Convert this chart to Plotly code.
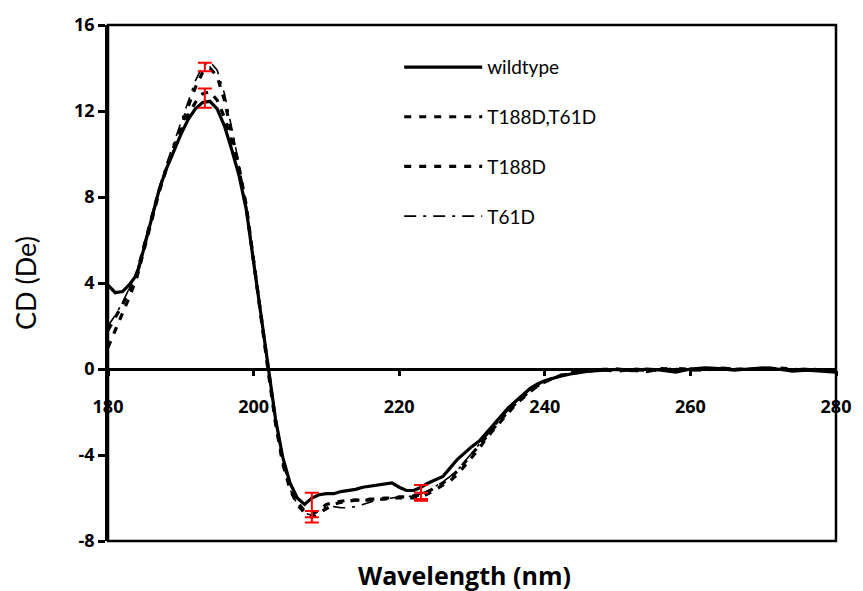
import plotly.graph_objects as go

# wavelength grid (nm)
wl = list(range(180, 241)) + list(range(242, 281, 2))

x_ticks = [180, 200, 220, 240, 260, 280]
x_ticktext = ["180", "200", "220", "240", "260", "280"]
y_ticks = [-8, -4, 0, 4, 8, 12, 16]
y_ticktext = ["-8", "-4", "0", "4", "8", "12", "16"]

wildtype = [3.9, 3.55, 3.6, 3.95, 4.4, 5.7, 7.0, 8.3, 9.3, 10.1,
            10.9, 11.6, 12.1, 12.4, 12.45, 12.1, 11.3, 10.2, 9.0, 7.4,
            5.0, 2.5, 0.0, -2.3, -4.1, -5.3, -6.0, -6.3, -6.0, -5.85,
            -5.8, -5.8, -5.7, -5.65, -5.6, -5.5, -5.45, -5.4, -5.35, -5.3,
            -5.5, -5.65, -5.65, -5.5, -5.3, -5.15, -5.0, -4.6, -4.2, -3.9,
            -3.6, -3.35, -2.95, -2.55, -2.15, -1.8, -1.5, -1.2, -0.9, -0.7,
            -0.55,
            -0.35, -0.2, -0.1, -0.05, -0.02, -0.08, 0.0, -0.05, -0.15, 0.0,
            0.05, 0.02, -0.05, 0.0, 0.05, 0.0, -0.1, -0.05, -0.1, -0.15]

t188d_t61d = [1.0, 1.8, 2.6, 3.4, 4.3, 5.6, 6.9, 8.2, 9.3, 10.3,
              11.3, 12.2, 13.1, 13.8, 14.0, 13.6, 12.5, 11.0, 9.4, 7.6,
              5.0, 2.4, -0.1, -2.5, -4.4, -5.6, -6.3, -6.7, -6.9, -6.7,
              -6.5, -6.3, -6.2, -6.15, -6.1, -6.1, -6.1, -6.05, -6.05, -6.0,
              -6.0, -6.0, -6.0, -5.95, -5.8, -5.6, -5.4, -5.2, -4.9, -4.5,
              -4.1, -3.7, -3.2, -2.8, -2.4, -2.0, -1.65, -1.35, -1.05, -0.8,
              -0.6,
              -0.32, -0.15, -0.1, -0.02, 0.0, -0.05, -0.12, 0.02, 0.0, -0.05,
              0.0, 0.05, 0.0, -0.02, 0.02, 0.05, 0.0, -0.08, -0.02, -0.05]

t188d = [1.8, 2.4, 3.0, 3.7, 4.5, 5.8, 7.1, 8.3, 9.3, 10.2,
         11.0, 11.8, 12.4, 12.8, 12.9, 12.5, 11.7, 10.6, 9.2, 7.5,
         5.0, 2.5, 0.0, -2.4, -4.3, -5.5, -6.2, -6.6, -6.75, -6.55,
         -6.3, -6.2, -6.15, -6.1, -6.1, -6.1, -6.05, -6.05, -6.0, -6.0,
         -5.95, -5.95, -5.9, -5.85, -5.7, -5.5, -5.3, -5.05, -4.75, -4.35,
         -3.95, -3.55, -3.1, -2.7, -2.3, -1.95, -1.6, -1.3, -1.0, -0.78,
         -0.58,
         -0.3, -0.18, -0.08, -0.04, -0.1, 0.0, -0.03, -0.08, 0.03, 0.0,
         -0.06, 0.04, 0.0, -0.03, 0.04, 0.02, -0.05, 0.0, -0.04, -0.08]

t61d = [2.0, 2.5, 3.1, 3.8, 4.6, 5.9, 7.2, 8.4, 9.5, 10.5,
        11.5, 12.5, 13.4, 14.1, 14.3, 13.9, 12.8, 11.2, 9.5, 7.6,
        5.1, 2.5, 0.0, -2.4, -4.3, -5.6, -6.3, -6.7, -6.8, -6.6,
        -6.4, -6.4, -6.45, -6.45, -6.4, -6.3, -6.2, -6.1, -6.05, -6.0,
        -5.95, -5.95, -5.9, -5.8, -5.65, -5.45, -5.25, -5.0, -4.7, -4.3,
        -3.9, -3.5, -3.05, -2.65, -2.25, -1.9, -1.55, -1.25, -0.95, -0.75,
        -0.55,
        -0.3, -0.16, -0.06, -0.08, 0.0, -0.04, -0.1, 0.0, -0.02, 0.03,
        -0.04, 0.0, -0.06, 0.02, 0.0, -0.02, -0.06, 0.02, -0.03, -0.1]

# error bars (red)
err_x = [193.3, 208.0, 223.0]
err_a_y = [12.6, -6.45, -5.76]
err_a_e = [0.45, 0.69, 0.37]
err_b_y = [14.05, -6.75, -5.9]
err_b_e = [0.2, 0.15, 0.15]

series = [
    ("wildtype", wildtype, dict(color="black", width=3.2, dash="solid")),
    ("T188D,T61D", t188d_t61d, dict(color="black", width=3.2, dash="7px,8px")),
    ("T188D", t188d, dict(color="black", width=3.2, dash="7px,8px")),
    ("T61D", t61d, dict(color="black", width=1.6, dash="12px,7px,3px,7px")),
]

fig = go.Figure()
for i, (name, vals, ln) in enumerate(series):
    fig.add_trace(go.Scatter(x=wl, y=vals, mode="lines", name=name, line=ln,
                             legendgroup=f"g{i}"))

for ys, es in [(err_a_y, err_a_e), (err_b_y, err_b_e)]:
    fig.add_trace(go.Scatter(x=err_x, y=ys, mode="markers", showlegend=False,
                             marker=dict(size=1, color="rgba(0,0,0,0)"),
                             error_y=dict(type="data", array=es, visible=True,
                                          color="#FF0000", thickness=2, width=7)))

tickfont = dict(family="Open Sans, Lato, sans-serif", size=18, color="black", weight="bold")

fig.update_layout(
    width=863, height=591,
    margin=dict(l=108, r=23, t=20, b=50),
    paper_bgcolor="white", plot_bgcolor="white",
    showlegend=True,
    legend=dict(x=0.40, y=0.955, xanchor="left", yanchor="top",
                bgcolor="rgba(0,0,0,0)", tracegroupgap=22, itemwidth=78,
                font=dict(family="Lato, Open Sans, sans-serif", size=19, color="black")),
    xaxis=dict(range=[180, 280], tickvals=x_ticks, ticktext=x_ticktext,
               anchor="free", position=1/3, showline=True, linecolor="black",
               linewidth=2.5, ticks="outside", ticklen=5, tickwidth=2.5,
               tickcolor="black", showgrid=False, zeroline=False,
               ticklabelstandoff=16, tickfont=tickfont),
    yaxis=dict(range=[-8, 16], tickvals=y_ticks, ticktext=y_ticktext,
               showline=True, linecolor="black", linewidth=2.5,
               ticks="outside", ticklen=7, tickwidth=2.5, tickcolor="black",
               showgrid=False, zeroline=False, tickfont=tickfont),
    shapes=[dict(type="rect", xref="paper", yref="paper", x0=0, x1=1, y0=0, y1=1,
                 line=dict(color="black", width=2.5), layer="above")],
    annotations=[
        dict(text="Wavelength (nm)", xref="paper", yref="paper", x=0.49, y=-0.066,
             xanchor="center", yanchor="middle", showarrow=False,
             font=dict(family="Open Sans, Lato, sans-serif", size=25, color="black", weight="bold")),
        dict(text="CD (De)", xref="paper", yref="paper", x=-0.114, y=0.5,
             xanchor="center", yanchor="middle", showarrow=False, textangle=-90,
             font=dict(family="Lato, Open Sans, sans-serif", size=27, color="black")),
    ],
)

fig.write_html("out.html", config={"displayModeBar": False},
               post_script="document.body.style.margin='0';document.body.style.overflow='hidden';")
